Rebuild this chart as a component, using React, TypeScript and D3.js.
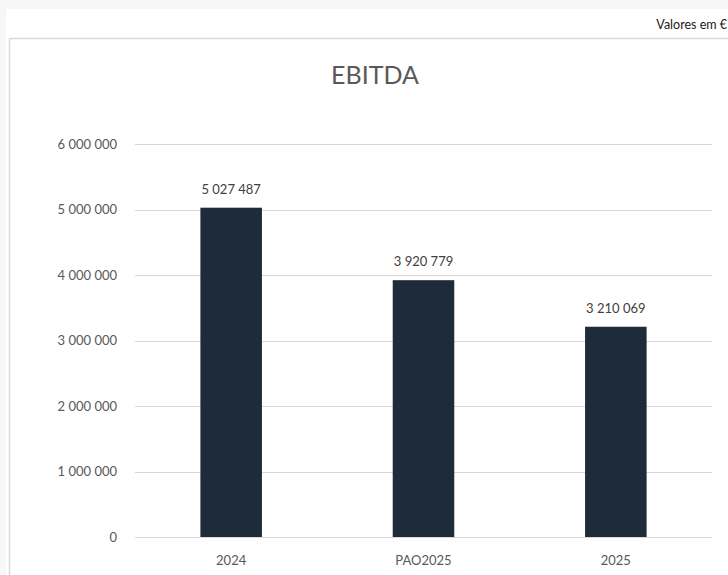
import React from "react";
import * as d3 from "d3";

const categories = ["2024", "PAO2025", "2025"];
const values = [5027487, 3920779, 3210069];
const yTicks = [0, 1000000, 2000000, 3000000, 4000000, 5000000, 6000000];
const title = "EBITDA";
const note = "Valores em €";

const W = 728;
const H = 575;

const fmt = (v: number) => d3.format(",")(v).replace(/,/g, " ");

export default function App() {
  const x = d3.scaleBand<string>().domain(categories).range([135, 712]).paddingInner(0.68).paddingOuter(0.34);
  const y = d3.scaleLinear().domain([0, 6000000]).range([537, 144]);
  const font = "Lato, 'Open Sans', sans-serif";
  return (
    <div style={{ position: "fixed", left: 0, top: 0, width: W, height: H }}>
      <svg width={W} height={H} style={{ display: "block" }} fontFamily={font}>
        <rect x={0} y={0} width={W} height={H} fill="#f6f7f9" />
        <rect x={6} y={9} width={W - 6} height={H - 9} fill="#ffffff" />
        <line x1={9.5} x2={W} y1={38.5} y2={38.5} stroke="#dcdcdc" strokeWidth={1.5} />
        <line x1={9.5} x2={9.5} y1={38.5} y2={H} stroke="#dcdcdc" strokeWidth={1.5} />
        <text x={727} y={29} textAnchor="end" fontSize={12.5} fill="#1a1a1a">{note}</text>
        <text x={375} y={84} textAnchor="middle" fontSize={25} fill="#595959">{title}</text>
        {yTicks.map((t) => (
          <g key={t}>
            <line x1={135} x2={712} y1={Math.round(y(t)) + 0.5} y2={Math.round(y(t)) + 0.5} stroke="#d9d9d9" strokeWidth={1} />
            <text x={117} y={y(t) + 4.5} textAnchor="end" fontSize={13} fill="#595959">{fmt(t)}</text>
          </g>
        ))}
        {categories.map((c, i) => (
          <g key={c}>
            <rect x={x(c)!} y={y(values[i])} width={x.bandwidth()} height={y(0) - y(values[i])} fill="#1e2b3a" />
            <text x={x(c)! + x.bandwidth() / 2} y={y(values[i]) - 14} textAnchor="middle" fontSize={13} fill="#404040">{fmt(values[i])}</text>
            <text x={x(c)! + x.bandwidth() / 2} y={565} textAnchor="middle" fontSize={13} fill="#595959">{c}</text>
          </g>
        ))}
      </svg>
    </div>
  );
}
